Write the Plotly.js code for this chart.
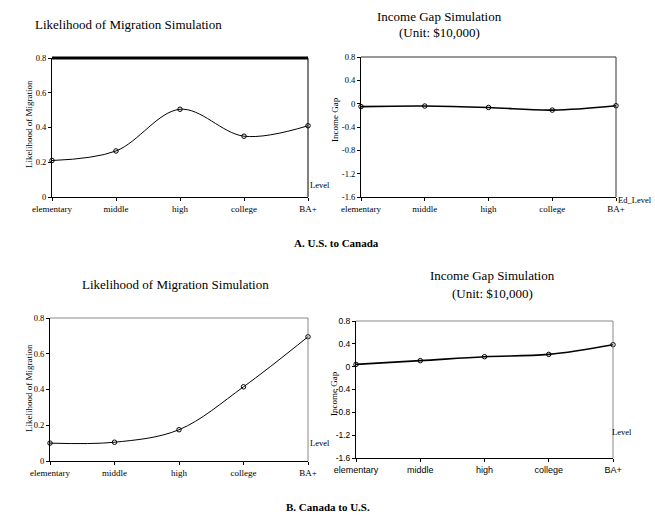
<!DOCTYPE html>
<html>
<head>
<meta charset="utf-8">
<script src="https://cdn.plot.ly/plotly-3.0.1.min.js"></script>
<style>html,body{margin:0;padding:0;background:#fff;}#chart{width:655px;height:522px;}</style>
</head>
<body>
<div id="chart"></div>
<script>
// ---- data ----
const categories = ["elementary", "middle", "high", "college", "BA+"];
const likelihoodUStoCanada = [0.21, 0.265, 0.505, 0.35, 0.41];
const incomeGapUStoCanada = [-0.05, -0.04, -0.065, -0.11, -0.035];
const likelihoodCanadaToUS = [0.10, 0.105, 0.175, 0.415, 0.695];
const incomeGapCanadaToUS = [0.04, 0.105, 0.175, 0.215, 0.385];
const likelihoodTicks = [0, 0.2, 0.4, 0.6, 0.8];
const gapTicks = [-1.6, -1.2, -0.8, -0.4, 0, 0.4, 0.8];
const gapTickText = ["-1.6", "-1.2", "-0.8", "-0.4", "0", "0.4", "0.8"];

const W = 655, H = 522;
const px = v => v / W;
const py = v => (H - v) / H;
const serif = "Liberation Serif";
const sans = "Liberation Sans";

function trace(y, xa, ya, lw) {
  return {
    x: categories, y: y, xaxis: xa, yaxis: ya, type: "scatter", mode: "lines+markers",
    line: {shape: "spline", smoothing: 1, color: "#000", width: lw},
    marker: {symbol: "circle-open", size: 4.5, color: "#000", line: {width: 1, color: "#000"}},
    cliponaxis: false, showlegend: false, hoverinfo: "x+y"
  };
}

const data = [
  trace(likelihoodUStoCanada, "x", "y", 1),
  trace(incomeGapUStoCanada, "x2", "y2", 1.6),
  trace(likelihoodCanadaToUS, "x3", "y3", 1),
  trace(incomeGapCanadaToUS, "x4", "y4", 1.6)
];

function xax(d, anchor, fam) {
  return {domain: d, anchor: anchor, type: "category", categoryarray: categories, range: [0, 4],
    showgrid: false, zeroline: false, showline: true, linecolor: "#000", linewidth: 1,
    ticks: "outside", ticklen: 3, tickcolor: "#000", tickfont: {family: fam, size: 9, color: "#000"}, fixedrange: true};
}
function yax(d, anchor, range, tv, tt, fam) {
  return {domain: d, anchor: anchor, range: range, tickvals: tv, ticktext: tt,
    showgrid: false, zeroline: false, showline: true, linecolor: "#000", linewidth: 1,
    ticks: "outside", ticklen: 3, tickcolor: "#000", tickfont: {family: fam, size: 8.5, color: "#000"}, fixedrange: true};
}

function ann(text, x, y, size, opts) {
  return Object.assign({text: text, x: px(x), y: py(y), xref: "paper", yref: "paper",
    showarrow: false, font: {family: serif, size: size, color: "#000"}, xanchor: "center", yanchor: "middle"}, opts || {});
}

function border(xr, yr, color, topW) {
  return [
    {type: "line", xref: xr + " domain", yref: yr + " domain", x0: 0, x1: 1, y0: 1, y1: 1, line: {color: color, width: topW}},
    {type: "line", xref: xr + " domain", yref: yr + " domain", x0: 1, x1: 1, y0: 0, y1: 1, line: {color: color, width: 1}}
  ];
}

const layout = {
  width: W, height: H, margin: {l: 0, r: 0, t: 0, b: 0},
  paper_bgcolor: "#fff", plot_bgcolor: "#fff", showlegend: false,
  font: {family: serif, color: "#000"},
  xaxis: xax([px(52), px(308)], "y", serif),
  yaxis: yax([py(197), py(58)], "x", [0, 0.8], likelihoodTicks, likelihoodTicks.map(String), serif),
  xaxis2: xax([px(361), px(616)], "y2", serif),
  yaxis2: yax([py(197), py(57)], "x2", [-1.6, 0.8], gapTicks, gapTickText, serif),
  xaxis3: xax([px(50), px(308)], "y3", serif),
  yaxis3: yax([py(461), py(318)], "x3", [0, 0.8], likelihoodTicks, likelihoodTicks.map(String), serif),
  xaxis4: xax([px(356), px(613)], "y4", sans),
  yaxis4: yax([py(458), py(321)], "x4", [-1.6, 0.8], gapTicks, gapTickText, sans),
  shapes: [].concat(
    border("x", "y", "#000", 3),
    border("x2", "y2", "#333", 1),
    border("x3", "y3", "#888", 1),
    border("x4", "y4", "#888", 1)
  ),
  annotations: [
    ann("Likelihood of Migration Simulation", 128, 24, 13),
    ann("Income Gap Simulation", 439, 16, 13),
    ann("(Unit: $10,000)", 439, 33, 13),
    ann("Likelihood of Migration Simulation", 175, 285, 13),
    ann("Income Gap Simulation", 492, 275, 13),
    ann("(Unit: $10,000)", 492, 293, 13),
    ann("Likelihood of Migration", 29, 124, 9, {textangle: -90}),
    ann("Income Gap", 335, 120, 9, {textangle: -90}),
    ann("Likelihood of Migration", 29, 388, 9, {textangle: -90}),
    ann("Income Gap", 334, 394, 9, {textangle: -90}),
    ann("Level", 308, 185, 8.5, {xanchor: "left"}),
    ann("Ed_Level", 616, 200, 8.5, {xanchor: "left"}),
    ann("Level", 308, 443, 8.5, {xanchor: "left"}),
    ann("Level", 610, 432, 8.5, {xanchor: "left"}),
    ann("<b>A. U.S. to Canada</b>", 336, 243, 11),
    ann("<b>B. Canada to U.S.</b>", 328, 507, 11)
  ]
};

Plotly.newPlot("chart", data, layout, {displayModeBar: false, staticPlot: true});
</script>
</body>
</html>
